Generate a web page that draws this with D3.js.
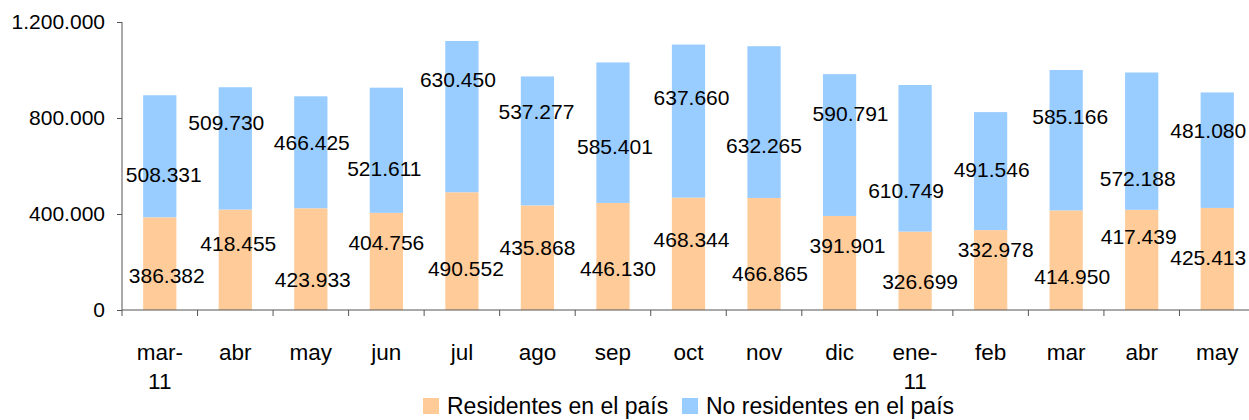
<!DOCTYPE html>
<html>
<head>
<meta charset="utf-8">
<script src="https://cdn.jsdelivr.net/npm/d3@7"></script>
<style>
  body { margin: 0; background: #fff; }
  svg { display: block; font-family: "Liberation Sans", Arial, sans-serif; }
</style>
</head>
<body>
<svg id="chart" width="1249" height="420"></svg>
<script>
// data
var months = ['mar-11', 'abr', 'may', 'jun', 'jul', 'ago', 'sep', 'oct', 'nov', 'dic', 'ene-11', 'feb', 'mar', 'abr', 'may'];
var residentes = [386382, 418455, 423933, 404756, 490552, 435868, 446130, 468344, 466865, 391901, 326699, 332978, 414950, 417439, 425413];
var noResidentes = [508331, 509730, 466425, 521611, 630450, 537277, 585401, 637660, 632265, 590791, 610749, 491546, 585166, 572188, 481080];
var yTicks = [0, 400000, 800000, 1200000];
var seriesNames = ['Residentes en el país', 'No residentes en el país'];

// label nudges (px) so labels sit where they sit in the original
var resDx = [7, 3, 2, 0, 4, 0, 5, 3, 6, 8, 5, 5, 6, -3, -9];
var resDy = [12, -16, 21, -19, 18, -10, 12, -14, 20, -17, 11, -20, 16, -23, -1];
var noResDx = [4, -9, 1, -2, -4, -1, 2, 3, 0, 11, -9, 1, 4, -4, -9];
var noResDy = [18, -26, -10, 18, -37, -29, 14, -23, 24, -31, 32, -1, -24, 37, -20];

document.addEventListener('DOMContentLoaded', function () {
    drawChart();
});

function drawChart() {
    const svg = d3.select('#chart');
    const colors = ['#FFCC99', '#99CCFF'];
    const fmt = function (v) { return d3.format(',')(v).replace(/,/g, '.'); };

    // index based band scale since month names repeat
    const idx = d3.range(months.length);
    const x = d3.scaleBand()
        .domain(idx)
        .range([122, 1255])
        .paddingInner(0.56)
        .paddingOuter(0.28);
    const step = x.step();

    const y = d3.scaleLinear()
        .domain([0, 1200000])
        .range([310, 22]);

    const rows = idx.map(i => ({ i: i, res: residentes[i], nores: noResidentes[i] }));
    const stack = d3.stack().keys(['res', 'nores'])(rows);

    // bars
    stack.forEach(function (layer, k) {
        svg.append('g')
            .selectAll('rect')
            .data(layer)
            .enter()
            .append('rect')
            .attr('x', d => x(d.data.i))
            .attr('width', x.bandwidth())
            .attr('y', d => y(d[1]))
            .attr('height', d => y(d[0]) - y(d[1]))
            .attr('fill', colors[k]);
    });

    // value labels
    var labelSets = [
        { layer: stack[0], vals: residentes, dx: resDx, dy: resDy },
        { layer: stack[1], vals: noResidentes, dx: noResDx, dy: noResDy }
    ];
    labelSets.forEach(function (s) {
        svg.append('g')
            .selectAll('text')
            .data(s.layer)
            .enter()
            .append('text')
            .attr('x', (d, i) => x(d.data.i) + x.bandwidth() / 2 + s.dx[i])
            .attr('y', (d, i) => (y(d[0]) + y(d[1])) / 2 + s.dy[i])
            .attr('dy', '0.35em')
            .attr('text-anchor', 'middle')
            .attr('font-size', 21)
            .attr('fill', '#000')
            .text((d, i) => fmt(s.vals[i]));
    });

    // y axis
    const yAxis = d3.axisLeft(y)
        .tickValues(yTicks)
        .tickFormat(fmt)
        .tickSize(5)
        .tickPadding(12);
    const gy = svg.append('g')
        .attr('transform', 'translate(122,0)')
        .call(yAxis);
    gy.select('.domain').attr('stroke', '#555').attr('d', 'M0,22V316');
    gy.selectAll('.tick line').attr('stroke', '#555');
    gy.selectAll('.tick text')
        .attr('font-size', 21)
        .attr('font-family', '"Liberation Sans", Arial, sans-serif')
        .attr('fill', '#000');

    // x axis line and ticks on band edges
    const gx = svg.append('g');
    gx.append('line')
        .attr('x1', 122).attr('x2', 1249)
        .attr('y1', 310).attr('y2', 310)
        .attr('stroke', '#555');
    gx.selectAll('line.tk')
        .data(idx.slice(1))
        .enter()
        .append('line')
        .attr('class', 'tk')
        .attr('x1', i => x(i) + x.bandwidth() / 2 - step / 2)
        .attr('x2', i => x(i) + x.bandwidth() / 2 - step / 2)
        .attr('y1', 310).attr('y2', 316)
        .attr('stroke', '#555');

    // month labels, with "-11" wrapping to a second line
    const xl = gx.selectAll('text.month')
        .data(idx)
        .enter()
        .append('text')
        .attr('class', 'month')
        .attr('text-anchor', 'middle')
        .attr('font-size', 22.5)
        .attr('fill', '#000');
    xl.each(function (i) {
        const parts = months[i].split('-');
        const t = d3.select(this);
        const cx = x(i) + x.bandwidth() / 2;
        t.append('tspan')
            .attr('x', cx)
            .attr('y', 360)
            .text(parts.length > 1 ? parts[0] + '-' : parts[0]);
        if (parts.length > 1) {
            t.append('tspan')
                .attr('x', cx)
                .attr('y', 389)
                .text(parts[1]);
        }
    });

    // legend
    const legend = svg.append('g');
    const legX = [423, 682];
    seriesNames.forEach(function (name, k) {
        legend.append('rect')
            .attr('x', legX[k]).attr('y', 398)
            .attr('width', 16).attr('height', 16)
            .attr('fill', colors[k]);
        legend.append('text')
            .attr('x', legX[k] + 24)
            .attr('y', 414)
            .attr('font-size', 23)
            .attr('fill', '#000')
            .text(name);
    });
}
</script>
</body>
</html>
